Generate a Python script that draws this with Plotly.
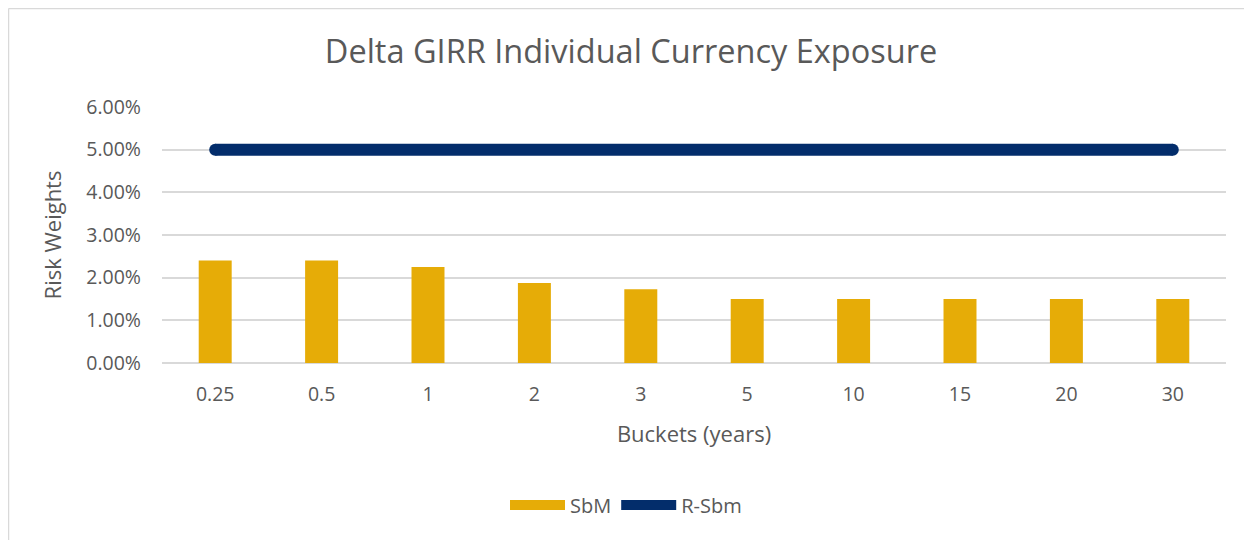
import plotly.graph_objects as go

buckets = ["0.25", "0.5", "1", "2", "3", "5", "10", "15", "20", "30"]
sbm = [0.024, 0.024, 0.0225, 0.01875, 0.0173, 0.015, 0.015, 0.015, 0.015, 0.015]
rsbm = [0.05, 0.05, 0.05, 0.05, 0.05, 0.05, 0.05, 0.05, 0.05, 0.05]
y_ticks = [0, 0.01, 0.02, 0.03, 0.04, 0.05, 0.06]

FONT = "Open Sans"
TXT = "#595959"
GOLD = "#E6AC07"
NAVY = "#032D6B"

W, H = 1252, 540
L, T, PW, PH = 154, 99, 1064, 256

fig = go.Figure()
fig.add_trace(go.Bar(x=buckets, y=sbm, name="SbM", marker=dict(color=GOLD, line=dict(width=0)),
                     width=0.31, showlegend=False, legendgroup="sbm"))
# legend-only swatch for the bar series (wide rectangle like the original)
fig.add_trace(go.Scatter(x=[None], y=[None], name="SbM", mode="lines", legendgroup="sbm",
                         line=dict(color=GOLD, width=14), hoverinfo="skip"))
fig.add_trace(go.Scatter(x=buckets, y=rsbm, name="R-Sbm", mode="lines", legendgroup="rsbm",
                         line=dict(color=NAVY, width=12)))
# round caps at the line ends
fig.add_trace(go.Scatter(x=[buckets[0], buckets[-1]], y=[rsbm[0], rsbm[-1]], mode="markers",
                         legendgroup="rsbm", showlegend=False, hoverinfo="skip",
                         marker=dict(color=NAVY, size=12, line=dict(width=0))))

fig.update_layout(
    width=W, height=H,
    margin=dict(l=L, r=W - L - PW, t=T, b=H - T - PH),
    paper_bgcolor="white", plot_bgcolor="white",
    font=dict(family=FONT, color=TXT, size=19),
    title=dict(text="Delta GIRR Individual Currency Exposure", x=623 / W, xanchor="center",
               y=1 - 44 / H, yanchor="middle", font=dict(size=32.5, color=TXT, family=FONT)),
    showlegend=True,
    legend=dict(orientation="h", x=(618 - L) / PW, xanchor="center", y=(T + PH - 497) / PH,
                yanchor="middle", font=dict(size=20, color=TXT), itemwidth=55, tracegroupgap=0),
    bargap=0.69,
)
fig.update_xaxes(type="category", range=[-0.5, len(buckets) - 0.5], autorange=False,
                 showgrid=False, showline=False, zeroline=False,
                 tickfont=dict(size=19.5, color=TXT), ticks="", ticklabelstandoff=17,
                 title=dict(text="Buckets (years)", font=dict(size=22, color=TXT), standoff=21))
fig.update_yaxes(range=[0, 0.06], tickvals=y_ticks, tickformat=".2%",
                 showgrid=True, gridcolor="#D9D9D9", gridwidth=1.5,
                 zeroline=True, zerolinecolor="#D9D9D9", zerolinewidth=1.5,
                 showline=False, ticks="", ticklabelstandoff=20,
                 tickfont=dict(size=19.5, color=TXT),
                 title=dict(text="Risk Weights", font=dict(size=22, color=TXT), standoff=18))

# chart-area border (top and left edges visible)
bx = (0.5 - L) / PW
by = (T + PH - 0.5) / PH
fig.add_shape(type="line", xref="paper", yref="paper", x0=bx, x1=(W - L) / PW,
              y0=by, y1=by, line=dict(color="#D9D9D9", width=1.5))
fig.add_shape(type="line", xref="paper", yref="paper", x0=bx, x1=bx,
              y0=by, y1=(T + PH - H) / PH, line=dict(color="#D9D9D9", width=1.5))

fig.write_html("out.html")
